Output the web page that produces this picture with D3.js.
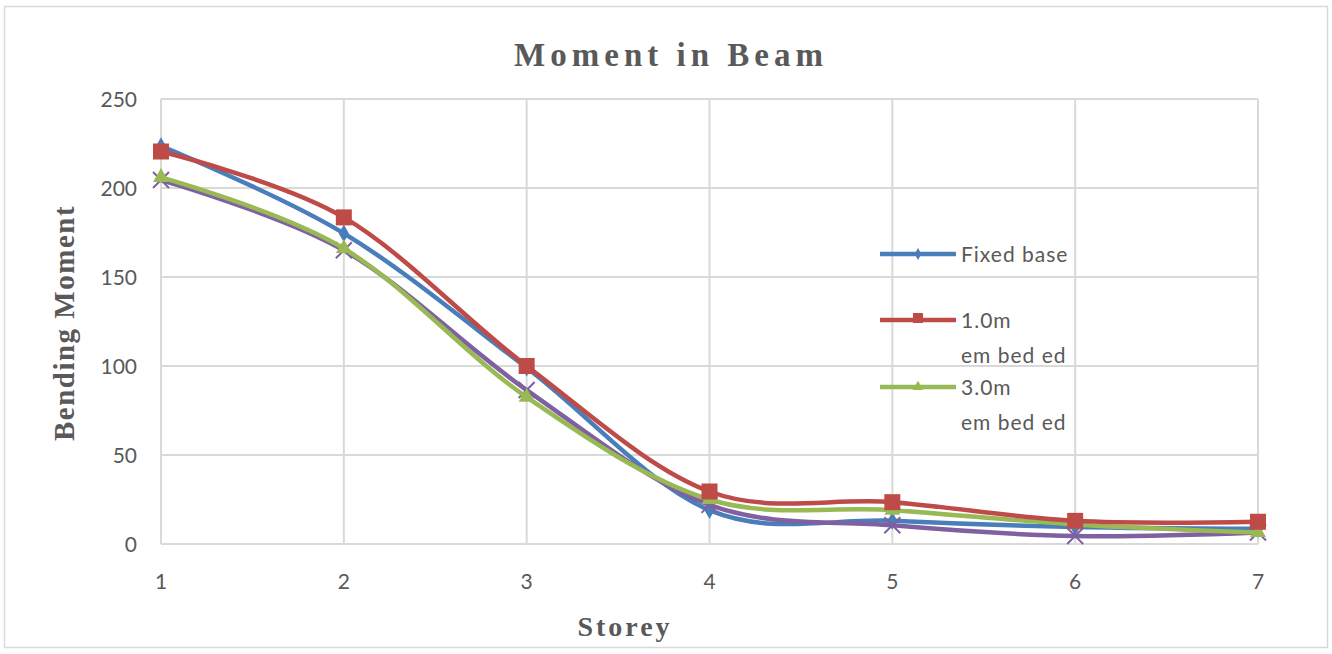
<!DOCTYPE html>
<html>
<head>
<meta charset="utf-8">
<script src="https://cdn.jsdelivr.net/npm/d3@7"></script>
<style>
  body { margin: 0; background: #fff; }
  svg { display: block; }
  .grid line { stroke: #d9d9d9; stroke-width: 2px; }
  .tick-label { font-family: Lato, "Open Sans", sans-serif; font-size: 21px; fill: #595959; }
  .serif-title { font-family: "Liberation Serif", "DejaVu Serif", serif; font-weight: bold; fill: #595959; }
</style>
</head>
<body>
<svg id="chart" width="1332" height="654"></svg>
<script>
// data
var storeys = [1, 2, 3, 4, 5, 6, 7];
var fixedBase = [223.5, 174.5, 99, 19, 13, 9.5, 8.5];
var embeded1 = [220.5, 183.5, 100, 29.5, 23.5, 13, 12.5];
var embeded3 = [206, 166, 82.5, 25, 19, 11, 6.5];
var series4 = [204.5, 165, 86.5, 22, 10.5, 4.5, 6.5];
var yTicks = [0, 50, 100, 150, 200, 250];

var svg = d3.select("#chart");
var margin = { top: 99, right: 74, bottom: 110, left: 161 };
var width = 1332, height = 654;
var contentWidth = width - margin.left - margin.right;
var contentHeight = height - margin.top - margin.bottom;

// outer chart border
svg.append("rect")
  .attr("x", 4.5).attr("y", 6.5)
  .attr("width", 1323).attr("height", 641)
  .attr("fill", "#fff")
  .attr("stroke", "#d9d9d9")
  .attr("stroke-width", 1.5);

var g = svg.append("g").attr("transform", "translate(" + margin.left + "," + margin.top + ")");

var xScale = d3.scaleLinear().domain([1, 7]).range([0, contentWidth]);
var yScale = d3.scaleLinear().domain([0, 250]).range([contentHeight, 0]);

// gridlines
var grid = g.append("g").attr("class", "grid");
grid.selectAll(".hgrid")
  .data(yTicks)
  .enter().append("line")
  .attr("x1", 0).attr("x2", contentWidth)
  .attr("y1", function (d) { return yScale(d); })
  .attr("y2", function (d) { return yScale(d); });
grid.selectAll(".vgrid")
  .data(storeys)
  .enter().append("line")
  .attr("x1", function (d) { return xScale(d); })
  .attr("x2", function (d) { return xScale(d); })
  .attr("y1", 0).attr("y2", contentHeight);

// tick labels
g.selectAll(".ylab")
  .data(yTicks)
  .enter().append("text")
  .attr("class", "tick-label")
  .attr("x", -24)
  .attr("y", function (d) { return yScale(d); })
  .attr("dy", "0.36em")
  .attr("text-anchor", "end")
  .text(function (d) { return d; });

g.selectAll(".xlab")
  .data(storeys)
  .enter().append("text")
  .attr("class", "tick-label")
  .attr("x", function (d) { return xScale(d); })
  .attr("y", contentHeight + 45)
  .attr("text-anchor", "middle")
  .text(function (d) { return d; });

// titles
svg.append("text")
  .attr("class", "serif-title")
  .attr("x", 671).attr("y", 66)
  .attr("text-anchor", "middle")
  .style("font-size", "33px")
  .style("letter-spacing", "5px")
  .text("Moment in Beam");

svg.append("text")
  .attr("class", "serif-title")
  .attr("transform", "translate(74,323)rotate(-90)")
  .attr("text-anchor", "middle")
  .style("font-size", "29px")
  .style("letter-spacing", "1.5px")
  .text("Bending Moment");

svg.append("text")
  .attr("class", "serif-title")
  .attr("x", 625).attr("y", 636)
  .attr("text-anchor", "middle")
  .style("font-size", "28px")
  .style("letter-spacing", "3px")
  .text("Storey");

var line = d3.line()
  .x(function (d) { return xScale(d.x); })
  .y(function (d) { return yScale(d.y); })
  .curve(d3.curveCardinal.tension(0));

var seriesList = [
  { name: "Fixed base", values: fixedBase, color: "#4a7ebb", marker: "diamond" },
  { name: "4th", values: series4, color: "#7f60a0", marker: "cross" },
  { name: "3.0m embeded", values: embeded3, color: "#98b954", marker: "triangle" },
  { name: "1.0m embeded", values: embeded1, color: "#be4b48", marker: "square" }
];

function drawMarker(sel, type, color) {
  if (type === "diamond") {
    sel.append("path").attr("d", d3.symbol().type(d3.symbolDiamond).size(90)).attr("fill", color);
  } else if (type === "square") {
    sel.append("rect").attr("x", -8).attr("y", -8).attr("width", 16).attr("height", 16).attr("fill", color);
  } else if (type === "triangle") {
    sel.append("path").attr("d", d3.symbol().type(d3.symbolTriangle).size(110)).attr("fill", color);
  } else if (type === "cross") {
    sel.append("path").attr("d", "M-8,-8L8,8M-8,8L8,-8")
      .attr("stroke", color).attr("stroke-width", 2).attr("fill", "none");
  }
}

seriesList.forEach(function (s) {
  var dataset = storeys.map(function (st, i) { return { x: st, y: s.values[i] }; });
  g.append("path")
    .datum(dataset)
    .attr("fill", "none")
    .attr("stroke", s.color)
    .attr("stroke-width", 4.5)
    .attr("stroke-linejoin", "round")
    .attr("d", line);
  dataset.forEach(function (d) {
    var m = g.append("g").attr("transform", "translate(" + xScale(d.x) + "," + yScale(d.y) + ")");
    drawMarker(m, s.marker, s.color);
  });
});

// legend
var legendItems = [
  { lines: ["Fixed base"], color: "#4a7ebb", marker: "diamond", y: 254 },
  { lines: ["1.0m", "em bed ed"], color: "#be4b48", marker: "square", y: 320 },
  { lines: ["3.0m", "em bed ed"], color: "#98b954", marker: "triangle", y: 387 }
];
var legend = svg.append("g");
legendItems.forEach(function (it) {
  legend.append("line")
    .attr("x1", 880).attr("x2", 956)
    .attr("y1", it.y).attr("y2", it.y)
    .attr("stroke", it.color).attr("stroke-width", 4.5);
  var m = legend.append("g").attr("transform", "translate(918," + it.y + ")");
  if (it.marker === "diamond") {
    m.append("path").attr("d", d3.symbol().type(d3.symbolDiamond).size(40)).attr("fill", it.color);
  } else if (it.marker === "square") {
    m.append("rect").attr("x", -5).attr("y", -7).attr("width", 10).attr("height", 10).attr("fill", it.color);
  } else {
    m.append("path").attr("d", d3.symbol().type(d3.symbolTriangle).size(50)).attr("fill", it.color);
  }
  it.lines.forEach(function (t, i) {
    legend.append("text")
      .attr("class", "tick-label")
      .attr("x", 961)
      .attr("y", it.y + i * 35)
      .attr("dy", "0.36em")
      .style("letter-spacing", "1px")
      .text(t);
  });
});
</script>
</body>
</html>
